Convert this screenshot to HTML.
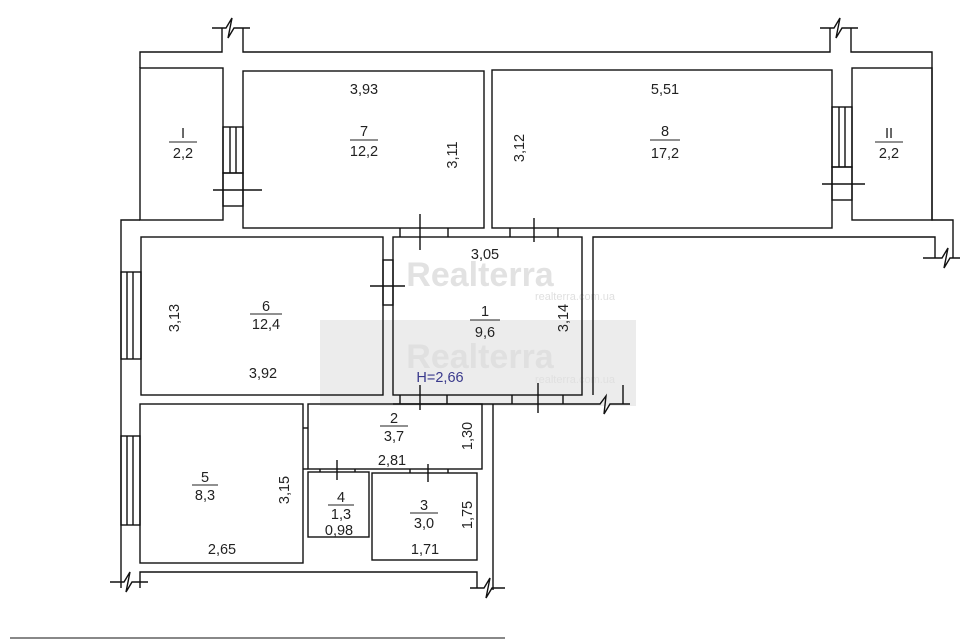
<!DOCTYPE html>
<html><head><meta charset="utf-8"><style>
html,body{margin:0;padding:0;background:#fff;}
svg{display:block;}
text{font-family:"Liberation Sans",sans-serif;font-size:14.5px;fill:#222;text-anchor:middle;}
</style></head><body>
<svg width="960" height="640" viewBox="0 0 960 640" xmlns="http://www.w3.org/2000/svg">
<rect x="320" y="320" width="316" height="86" fill="#ececec"/>
<text x="480" y="286" style="font-size:34px;font-weight:bold;fill:#e2e2e2">Realterra</text>
<text x="575" y="300" style="font-size:11px;fill:#e0e0e0">realterra.com.ua</text>
<text x="480" y="368" style="font-size:34px;font-weight:bold;fill:#e0e0e0">Realterra</text>
<text x="575" y="383" style="font-size:11px;fill:#e0e0e0">realterra.com.ua</text>
<g fill="none" stroke="#111" stroke-width="1.4">
<polyline points="222,28 222,52 140,52 140,68"/>
<polyline points="243,28 243,52 830,52 830,28"/>
<polyline points="851,28 851,52 932,52 932,220 953,220 953,258"/>
<polyline points="212,28 226,28 232,18 228,38 234,28 250,28"/>
<polyline points="820,28 834,28 840,18 836,38 842,28 858,28"/>
<polyline points="923,258 942,258 948,248 944,268 950,258 960,258"/>
<rect x="140" y="68" width="83" height="152"/>
<rect x="243" y="71" width="241" height="157"/>
<rect x="223" y="127" width="20" height="46"/>
<line x1="230" y1="127" x2="230" y2="173"/><line x1="236" y1="127" x2="236" y2="173"/>
<rect x="223" y="173" width="20" height="33"/>
<line x1="213" y1="190" x2="262" y2="190"/>
<rect x="492" y="70" width="340" height="158"/>
<rect x="832" y="107" width="20" height="60"/>
<line x1="839" y1="107" x2="839" y2="167"/><line x1="845" y1="107" x2="845" y2="167"/>
<rect x="832" y="167" width="20" height="33"/>
<line x1="822" y1="184" x2="865" y2="184"/>
<rect x="852" y="68" width="80" height="152"/>
<polyline points="140,220 121,220 121,588"/>
<polyline points="110,582 124,582 130,572 126,592 132,582 148,582"/>
<rect x="141" y="237" width="242" height="158"/>
<rect x="121" y="272" width="20" height="87"/>
<line x1="127" y1="272" x2="127" y2="359"/><line x1="133" y1="272" x2="133" y2="359"/>
<rect x="393" y="237" width="189" height="158"/>
<polyline points="593,395 593,237 935,237 935,258"/>
<line x1="400" y1="228" x2="400" y2="237"/><line x1="448" y1="228" x2="448" y2="237"/>
<line x1="420" y1="214" x2="420" y2="250"/>
<line x1="510" y1="228" x2="510" y2="237"/><line x1="558" y1="228" x2="558" y2="237"/>
<line x1="534" y1="218" x2="534" y2="242"/>
<rect x="383" y="260" width="10" height="45"/>
<line x1="370" y1="286" x2="405" y2="286"/>
<line x1="393" y1="404" x2="593" y2="404"/>
<line x1="400" y1="395" x2="400" y2="404"/><line x1="447" y1="395" x2="447" y2="404"/>
<line x1="420" y1="385" x2="420" y2="410"/>
<line x1="512" y1="395" x2="512" y2="404"/><line x1="563" y1="395" x2="563" y2="404"/>
<line x1="538" y1="383" x2="538" y2="413"/>
<polyline points="593,404 600,404 606,396 604,414 610,404 630,404"/>
<line x1="623" y1="385" x2="623" y2="404"/>
<line x1="493" y1="404" x2="493" y2="590"/>
<rect x="140" y="404" width="163" height="159"/>
<rect x="121" y="436" width="19" height="89"/>
<line x1="127" y1="436" x2="127" y2="525"/><line x1="133" y1="436" x2="133" y2="525"/>
<rect x="308" y="404" width="174" height="65"/>
<line x1="303" y1="428" x2="308" y2="428"/>
<line x1="303" y1="469" x2="308" y2="469"/>
<rect x="308" y="472" width="61" height="65"/>
<line x1="337" y1="460" x2="337" y2="480"/>
<line x1="320" y1="469" x2="320" y2="472"/><line x1="355" y1="469" x2="355" y2="472"/>
<rect x="372" y="473" width="105" height="87"/>
<line x1="428" y1="464" x2="428" y2="482"/>
<line x1="410" y1="469" x2="410" y2="473"/><line x1="448" y1="469" x2="448" y2="473"/>
<polyline points="140,588 140,572 477,572 477,588"/>
<polyline points="470,588 484,588 490,578 486,598 492,588 505,588"/>
</g>
<line x1="10" y1="638" x2="505" y2="638" stroke="#888" stroke-width="2"/>
<g>
<text x="364" y="94">3,93</text>
<text x="364" y="136">7</text><line x1="350" y1="140" x2="378" y2="140" stroke="#222"/><text x="364" y="156">12,2</text>
<text transform="translate(457,155) rotate(-90)">3,11</text>
<text transform="translate(524,148) rotate(-90)">3,12</text>
<text x="665" y="94">5,51</text>
<text x="665" y="136">8</text><line x1="650" y1="140" x2="680" y2="140" stroke="#222"/><text x="665" y="158">17,2</text>
<text x="183" y="138">I</text><line x1="169" y1="142" x2="197" y2="142" stroke="#222"/><text x="183" y="158">2,2</text>
<text x="889" y="138">II</text><line x1="875" y1="142" x2="903" y2="142" stroke="#222"/><text x="889" y="158">2,2</text>
<text x="485" y="259">3,05</text>
<text x="485" y="316">1</text><line x1="470" y1="320" x2="500" y2="320" stroke="#222"/><text x="485" y="337">9,6</text>
<text transform="translate(568,318) rotate(-90)">3,14</text>
<text x="266" y="311">6</text><line x1="250" y1="314" x2="282" y2="314" stroke="#222"/><text x="266" y="329">12,4</text>
<text transform="translate(179,318) rotate(-90)">3,13</text>
<text x="263" y="378">3,92</text>
<text x="440" y="382" style="fill:#3a3a8c">H=2,66</text>
<text x="394" y="423">2</text><line x1="380" y1="426" x2="408" y2="426" stroke="#222"/><text x="394" y="441">3,7</text>
<text transform="translate(472,436) rotate(-90)">1,30</text>
<text x="392" y="465">2,81</text>
<text x="205" y="482">5</text><line x1="192" y1="485" x2="218" y2="485" stroke="#222"/><text x="205" y="500">8,3</text>
<text x="341" y="502">4</text><line x1="328" y1="505" x2="354" y2="505" stroke="#222"/><text x="341" y="519">1,3</text>
<text transform="translate(289,490) rotate(-90)">3,15</text>
<text x="339" y="535">0,98</text>
<text x="424" y="510">3</text><line x1="410" y1="513" x2="438" y2="513" stroke="#222"/><text x="424" y="528">3,0</text>
<text transform="translate(472,515) rotate(-90)">1,75</text>
<text x="425" y="554">1,71</text>
<text x="222" y="554">2,65</text>
</g>
</svg>
</body></html>
